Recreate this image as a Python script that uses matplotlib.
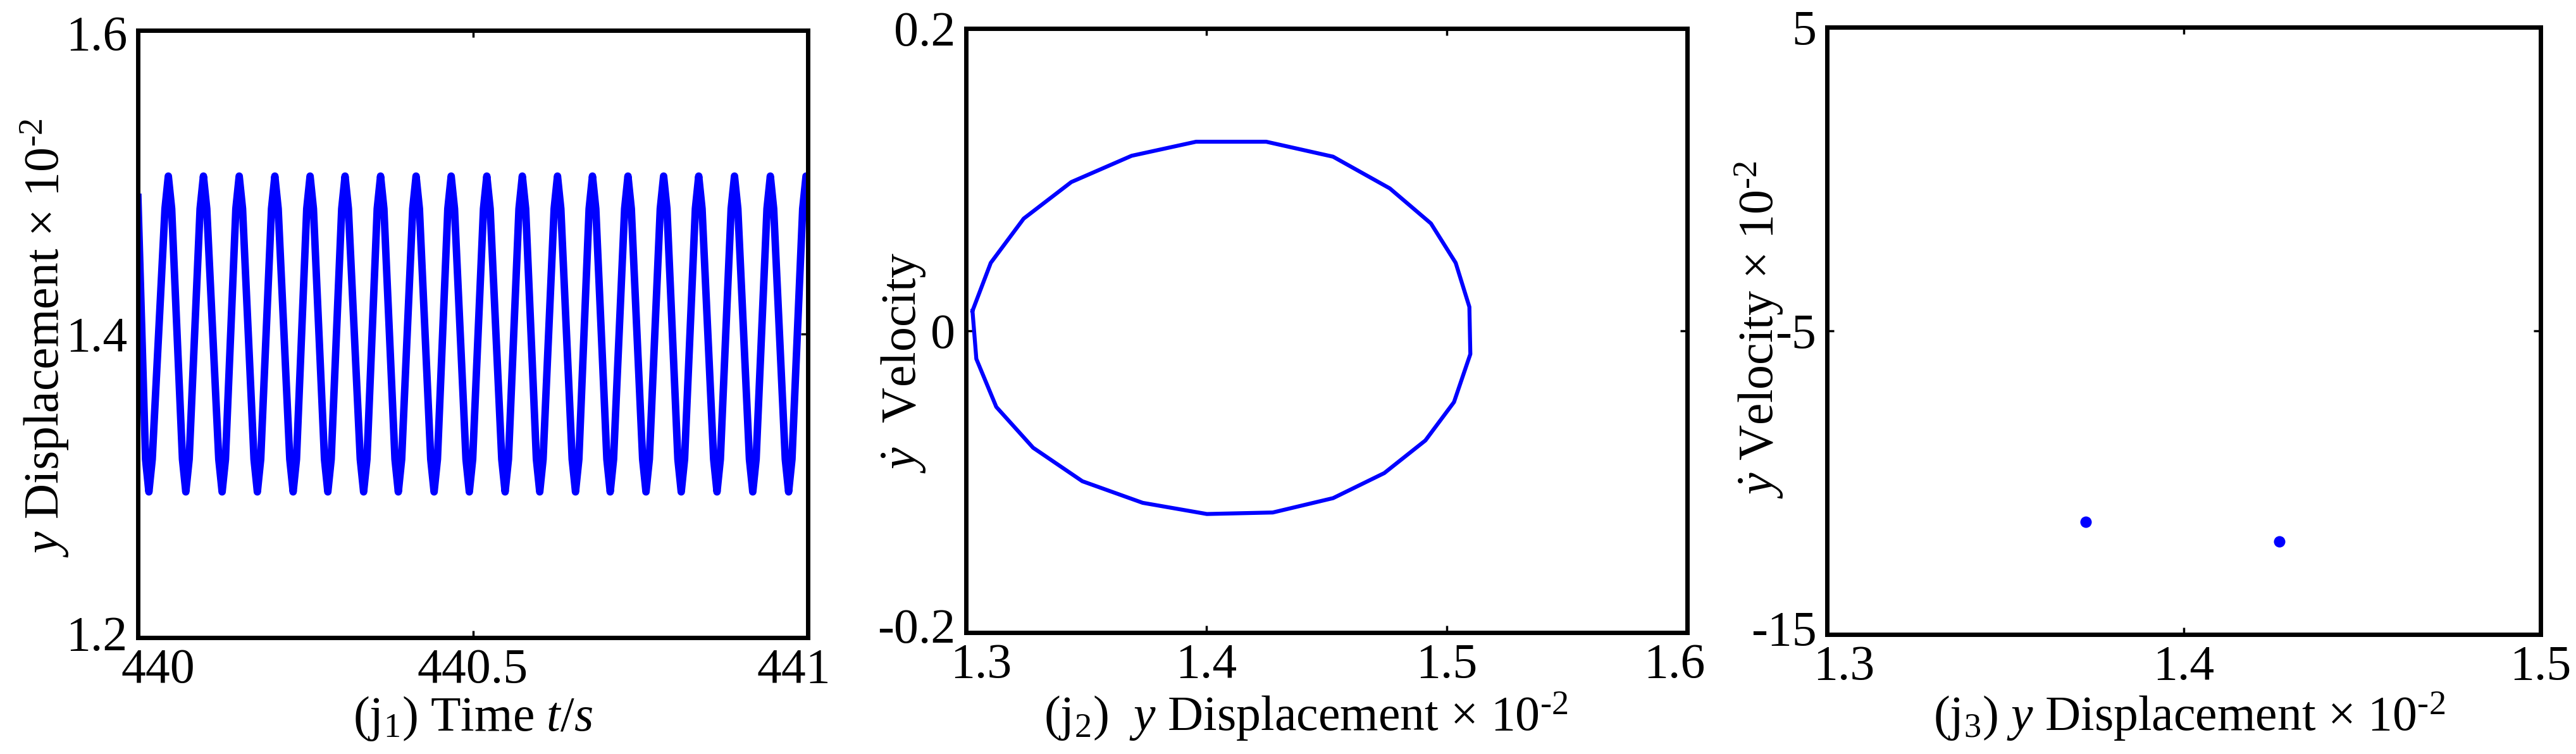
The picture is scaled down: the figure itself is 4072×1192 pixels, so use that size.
import numpy as np
import matplotlib
matplotlib.use("Agg")
import matplotlib.pyplot as plt
from matplotlib import transforms as mtransforms

plt.rcParams['font.family'] = ['Liberation Serif', 'DejaVu Serif']
plt.rcParams['mathtext.fontset'] = 'custom'
plt.rcParams['mathtext.rm'] = 'Liberation Serif'
plt.rcParams['mathtext.it'] = 'Liberation Serif:italic'
plt.rcParams['mathtext.bf'] = 'Liberation Serif:bold'
plt.rcParams['axes.unicode_minus'] = False

# ---------------- data ----------------
# (j1) time history, time measured from 440 s: start, then around every
# trough / peak a shoulder point, the extremum and a shoulder point, then end
p1_t0 = 440.0
p1_time_off = [0.0000,
               0.0114, 0.0164, 0.0214, 0.0404, 0.0454, 0.0504,
               0.0665, 0.0715, 0.0765, 0.0928, 0.0978, 0.1028,
               0.1207, 0.1257, 0.1307, 0.1462, 0.1512, 0.1562,
               0.1733, 0.1783, 0.1833, 0.1994, 0.2044, 0.2094,
               0.2267, 0.2317, 0.2367, 0.2520, 0.2570, 0.2620,
               0.2785, 0.2835, 0.2885, 0.3042, 0.3092, 0.3142,
               0.3319, 0.3369, 0.3419, 0.3572, 0.3622, 0.3672,
               0.3837, 0.3887, 0.3937, 0.4102, 0.4152, 0.4202,
               0.4371, 0.4421, 0.4471, 0.4626, 0.4676, 0.4726,
               0.4897, 0.4947, 0.4997, 0.5158, 0.5208, 0.5258,
               0.5431, 0.5481, 0.5531, 0.5688, 0.5738, 0.5788,
               0.5948, 0.5998, 0.6048, 0.6213, 0.6263, 0.6313,
               0.6482, 0.6532, 0.6582, 0.6735, 0.6785, 0.6835,
               0.7000, 0.7050, 0.7100, 0.7265, 0.7315, 0.7365,
               0.7534, 0.7584, 0.7634, 0.7797, 0.7847, 0.7897,
               0.8060, 0.8110, 0.8160, 0.8321, 0.8371, 0.8421,
               0.8594, 0.8644, 0.8694, 0.8855, 0.8905, 0.8955,
               0.9128, 0.9178, 0.9228, 0.9390, 0.9440, 0.9490,
               0.9663, 0.9713, 0.9763, 0.9923, 0.9973,
               1.0000]
p1_disp = [1.490,
           1.3175, 1.296, 1.3175, 1.4825, 1.504, 1.4825,
           1.3175, 1.296, 1.3175, 1.4825, 1.504, 1.4825,
           1.3175, 1.296, 1.3175, 1.4825, 1.504, 1.4825,
           1.3175, 1.296, 1.3175, 1.4825, 1.504, 1.4825,
           1.3175, 1.296, 1.3175, 1.4825, 1.504, 1.4825,
           1.3175, 1.296, 1.3175, 1.4825, 1.504, 1.4825,
           1.3175, 1.296, 1.3175, 1.4825, 1.504, 1.4825,
           1.3175, 1.296, 1.3175, 1.4825, 1.504, 1.4825,
           1.3175, 1.296, 1.3175, 1.4825, 1.504, 1.4825,
           1.3175, 1.296, 1.3175, 1.4825, 1.504, 1.4825,
           1.3175, 1.296, 1.3175, 1.4825, 1.504, 1.4825,
           1.3175, 1.296, 1.3175, 1.4825, 1.504, 1.4825,
           1.3175, 1.296, 1.3175, 1.4825, 1.504, 1.4825,
           1.3175, 1.296, 1.3175, 1.4825, 1.504, 1.4825,
           1.3175, 1.296, 1.3175, 1.4825, 1.504, 1.4825,
           1.3175, 1.296, 1.3175, 1.4825, 1.504, 1.4825,
           1.3175, 1.296, 1.3175, 1.4825, 1.504, 1.4825,
           1.3175, 1.296, 1.3175, 1.4825, 1.504, 1.4825,
           1.3175, 1.296, 1.3175, 1.4825, 1.504,
           1.500]

# (j2) phase portrait vertices
p2_disp = [1.3027, 1.3103, 1.3240, 1.3438, 1.3689, 1.3957, 1.4249, 1.4527,
           1.4763, 1.4934, 1.5037, 1.5094, 1.5098, 1.5030, 1.4911, 1.4740,
           1.4527, 1.4276, 1.4002, 1.3735, 1.3484, 1.3279, 1.3126, 1.3043]
p2_vel = [0.0130, 0.0448, 0.0741, 0.0983, 0.1157, 0.1250, 0.1250, 0.1151,
          0.0941, 0.0709, 0.0448, 0.0156, -0.0156, -0.0474, -0.0728, -0.0944,
          -0.1110, -0.1205, -0.1215, -0.1141, -0.0998, -0.0776, -0.0506, -0.0188]

# (j3) Poincare points
p3_disp = [1.3726, 1.4268]
p3_vel = [-11.30, -11.94]

# ticks
p1_xticks = [440, 440.5, 441]
p1_xtl = ['440', '440.5', '441']
p1_yticks = [1.2, 1.4, 1.6]
p1_ytl = ['1.2', '1.4', '1.6']
p2_xticks = [1.3, 1.4, 1.5, 1.6]
p2_xtl = ['1.3', '1.4', '1.5', '1.6']
p2_yticks = [-0.2, 0, 0.2]
p2_ytl = ['-0.2', '0', '0.2']
p3_xticks = [1.3, 1.4, 1.5]
p3_xtl = ['1.3', '1.4', '1.5']
p3_yticks = [-15, -5, 5]
p3_ytl = ['-15', '-5', '5']

# ---------------- figure ----------------
W, H = 4072, 1192
fig = plt.figure(figsize=(W / 100, H / 100), dpi=100)


def px_axes(l, t, r, b):
    return fig.add_axes([l / W, 1 - b / H, (r - l) / W, (b - t) / H])


ax1 = px_axes(218, 48, 1277, 1008)
ax2 = px_axes(1527, 45, 2667, 1000)
ax3 = px_axes(2888, 43, 4016, 1003)

BLUE = '#0000ff'
FS = 56

p1_time = p1_t0 + np.asarray(p1_time_off)
ax1.plot(p1_time, p1_disp, color=BLUE, lw=8.5, solid_joinstyle='round')
ax2.plot(np.append(p2_disp, p2_disp[0]), np.append(p2_vel, p2_vel[0]),
         color=BLUE, lw=4.5, solid_joinstyle='round')
ax3.plot(p3_disp, p3_vel, 'o', color=BLUE, ms=13, mec='none')


def shift(label, dx, dy):
    label.set_transform(label.get_transform() +
                        mtransforms.ScaledTranslation(dx / 100, -dy / 100, fig.dpi_scale_trans))


def style(ax, xlim, ylim, xt, xtl, yt, ytl):
    ax.set_xlim(xlim)
    ax.set_ylim(ylim)
    ax.set_xticks(xt)
    ax.set_xticklabels(xtl)
    ax.set_yticks(yt)
    ax.set_yticklabels(ytl)
    ax.tick_params(direction='in', top=True, right=True, length=8, width=2.5,
                   labelsize=FS, pad=12, colors='black')
    for s in ax.spines.values():
        s.set_linewidth(5)
        s.set_color('black')


style(ax1, (440, 441), (1.2, 1.6), p1_xticks, p1_xtl, p1_yticks, p1_ytl)
style(ax2, (1.3, 1.6), (-0.2, 0.2), p2_xticks, p2_xtl, p2_yticks, p2_ytl)
style(ax3, (1.3, 1.5), (-15, 5), p3_xticks, p3_xtl, p3_yticks, p3_ytl)

# tick label offsets (pixels, +x right, +y down)
xt1 = ax1.xaxis.get_major_ticks()
shift(xt1[0].label1, 32, 0)
shift(xt1[-1].label1, -22, 0)
yt1 = ax1.yaxis.get_major_ticks()
shift(yt1[0].label1, 0, -7)
shift(yt1[-1].label1, 0, 4)

xt2 = ax2.xaxis.get_major_ticks()
shift(xt2[0].label1, 24, 0)
shift(xt2[-1].label1, -20, 0)
yt2 = ax2.yaxis.get_major_ticks()
shift(yt2[0].label1, 0, -11)

xt3 = ax3.xaxis.get_major_ticks()
shift(xt3[0].label1, 27, 0)
yt3 = ax3.yaxis.get_major_ticks()
shift(yt3[0].label1, 0, -10)

# axis labels (short hyphen in the exponent, as in the original)
EXP = r'10$^{\mathrm{‐2}}$'
ax1.set_xlabel(r'(j$_1$) Time $t$/$s$', fontsize=FS)
ax1.set_ylabel(r'$y$ Displacement × ' + EXP, fontsize=FS)
ax2.set_xlabel(r'(j$_2$)  $y$ Displacement × ' + EXP, fontsize=FS)
ax2.set_ylabel(r'$\dot{y}$  Velocity', fontsize=FS)
ax3.set_xlabel(r'(j$_3$) $y$ Displacement × ' + EXP, fontsize=FS)
ax3.set_ylabel(r'$\dot{y}$ Velocity × ' + EXP, fontsize=FS)

for ax, xc, xb, yx, yc in [(ax1, 0.5, -0.153, -0.139, 0.493),
                           (ax2, 0.471, -0.162, -0.087, 0.447),
                           (ax3, 0.508, -0.158, -0.095, 0.502)]:
    ax.xaxis.set_label_coords(xc, xb)
    ax.xaxis.label.set_verticalalignment('baseline')
    ax.yaxis.set_label_coords(yx, yc)
    ax.yaxis.label.set_verticalalignment('center')

fig.savefig('out.png', dpi=100, facecolor='white')
